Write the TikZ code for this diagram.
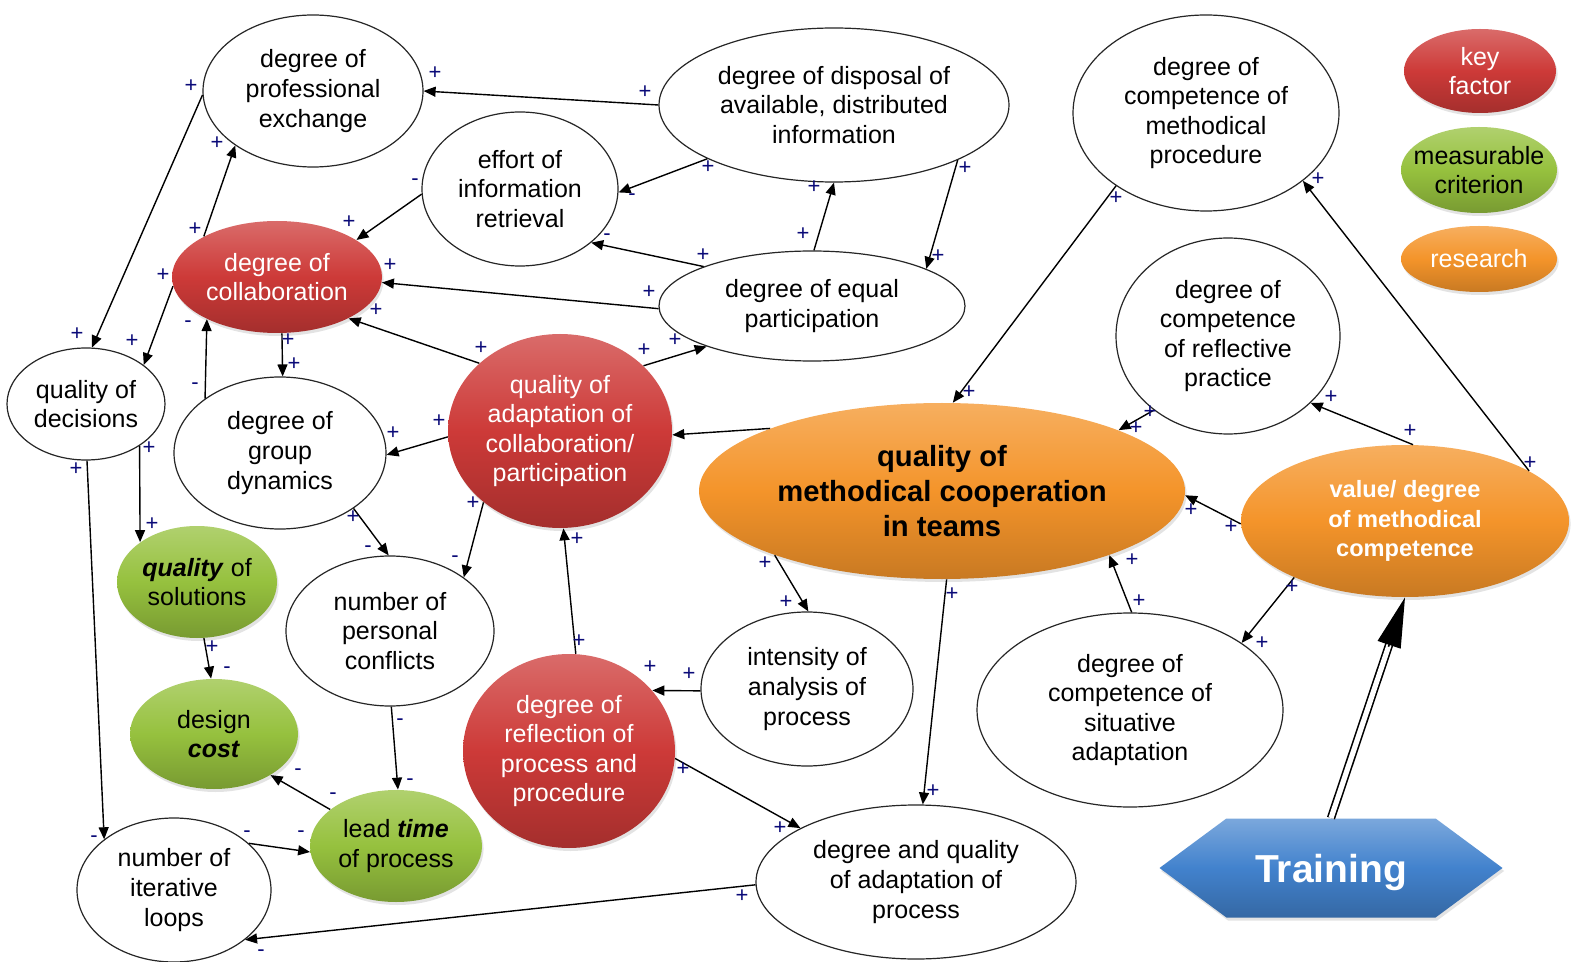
\documentclass[tikz,border=0pt]{standalone}
\usepackage{fontspec}
\setmainfont{Liberation Sans}
\usetikzlibrary{shapes.geometric,shapes.symbols,arrows.meta,calc,shadows}
\definecolor{kred}{RGB}{205,58,56}
\definecolor{kgreen}{RGB}{150,193,62}
\definecolor{korange}{RGB}{244,148,42}
\definecolor{kblue}{RGB}{66,130,205}
\definecolor{lblc}{RGB}{10,10,120}
\begin{document}
\begin{tikzpicture}[x=0.5pt,y=-0.5pt,
  el/.style 2 args={ellipse, inner sep=0pt, minimum width=#1pt, minimum height=#2pt, align=center},
  txt/.style={font=\fontsize{12.5}{14.8}\selectfont},
  wnode/.style={draw=black!85, line width=0.6pt, fill=white, txt},
  shad/.style={drop shadow={opacity=0.22,shadow xshift=0.8pt,shadow yshift=-1.5pt}},
  rnode/.style={shad, top color=kred!75!white, bottom color=kred!80!black, middle color=kred, text=white, txt},
  gnode/.style={shad, top color=kgreen!75!white, bottom color=kgreen!80!black, middle color=kgreen, text=black, txt},
  onode/.style={shad, top color=korange!75!white, bottom color=korange!82!black, middle color=korange},
  edge/.style={draw=black, line width=0.7pt, -{Triangle[length=6pt,width=5pt]}},
  lbl/.style={font=\fontsize{11}{11}\selectfont, text=lblc, inner sep=0pt}
]
\fill[white] (0,0) rectangle (1574,962);
\useasboundingbox (0,0) rectangle (1574,962);

% white nodes
\node[wnode, el={110}{76}] (PE) at (313,91) {degree of\\professional\\exchange};
\node[wnode, el={175}{77}] (DI) at (834,105) {degree of disposal of\\available, distributed\\information};
\node[wnode, el={98}{77}] (EF) at (520,189) {effort of\\information\\retrieval};
\node[wnode, el={153}{55}] (EP) at (812,306) {degree of equal\\participation};
\node[wnode, el={133}{98}] (CM) at (1206,113) {degree of\\competence of\\methodical\\procedure};
\node[wnode, el={79}{56}] (QD) at (86,404) {quality of\\decisions};
\node[wnode, el={106}{76}] (GD) at (280,453) {degree of\\group\\dynamics};
\node[wnode, el={112}{98}] (RP) at (1228,336) {degree of\\competence\\of reflective\\practice};
\node[wnode, el={104}{75}] (PC) at (390,631) {number of\\personal\\conflicts};
\node[wnode, el={106}{77}] (IN) at (807,689) {intensity of\\analysis of\\process};
\node[wnode, el={153}{97}] (SA) at (1130,710) {degree of\\competence of\\situative\\adaptation};
\node[wnode, el={97}{72}] (IL) at (174,890) {number of\\iterative\\loops};
\node[wnode, el={160}{77}] (DQ) at (916,882) {degree and quality\\of adaptation of\\process};

% red nodes
\node[rnode, el={105}{56}] (CO) at (277,277) {degree of\\collaboration};
\node[rnode, el={112}{97}] (QA) at (560,431) {quality of\\adaptation of\\collaboration/\\participation};
\node[rnode, el={106}{97}] (RF) at (569,751) {degree of\\reflection of\\process and\\procedure};

% green nodes
\node[gnode, el={80}{56}] (QS) at (197,582) {\textbf{\textit{quality}} of\\solutions};
\node[gnode, el={84}{55}] (DC) at (214,734) {design\\\textbf{\textit{cost}}};
\node[gnode, el={86}{56}] (LT) at (396,846) {lead \textbf{\textit{time}}\\of process};

% orange nodes
\node[onode, el={243}{88}, text=black, font=\bfseries\fontsize{14.6}{17.3}\selectfont] (QM) at (942,491) {quality of\\methodical cooperation\\in teams};
\node[onode, el={164}{76}, text=white, font=\bfseries\fontsize{11.8}{14.7}\selectfont] (VD) at (1405,521) {value/ degree\\of methodical\\competence};

% legend
\node[rnode, el={76}{42}] (K1) at (1480,71) {key\\factor};
\node[gnode, el={78}{43}, inner xsep=-16pt] (K2) at (1479,170) {measurable\\criterion};
\node[onode, el={78}{33}, text=white, txt] (K3) at (1479,259) {research};

% training
\node[shad, shape=signal, signal to=east and west, signal pointer angle=73, inner sep=0pt,
      minimum width=171.5pt, minimum height=49.5pt, text depth=0pt,
      top color=kblue!70!white, bottom color=kblue!80!black, middle color=kblue,
      text=white, font=\bfseries\fontsize{19.5}{22}\selectfont] (TR) at (1331,868) {Training};

% edges
\draw[edge] (DI.180) -- (PE.0);
\draw[edge] (DI.203) -- (EF.-2);
\draw[edge] (EP.88) -- (DI.270);
\draw[edge] (DI.336) -- (EP.18);
\draw[edge] (EP.160) -- (EF.323);
\draw[edge] (EF.183) -- (CO.25);
\draw[edge] (EP.181) -- (CO.-3);
\draw[edge] (CO.151) -- (PE.215);
\draw[edge] (PE.182) -- (QD.84);
\draw[edge] (CO.185) -- (QD.34);
\draw[edge] (GD.144) -- (CO.211);
\draw[edge] (CO.275) -- (GD.88);
\draw[edge] (QA.140) -- (CO.330);
\draw[edge] (QA.38) -- (EP.201);
\draw[edge] (QA.183) -- (GD.-1);
\draw[edge] (QM.160) -- (QA.-2);
\draw[edge] (CM.219) -- (QM.83);
\draw[edge] (VD.22) -- (CM.325);
\draw[edge] (RP.225) -- (QM.19);
\draw[edge] (VD.84) -- (RP.321);
\draw[edge] (VD.181) -- (QM.-1);
\draw[edge] (SA.89) -- (QM.339);
\draw[edge] (VD.207) -- (SA.31);
\draw[edge] (QM.201) -- (IN.89);
\draw[edge] (QM.273) -- (DQ.85);
\draw[edge] (IN.181) -- (RF.36);
\draw[edge] (RF.86) -- (QA.272);
\draw[edge] (RF.356) -- (DQ.155);
\draw[edge] (DQ.181) -- (IL.325);
\draw[edge] (QA.223) -- (PC.36);
\draw[edge] (GD.323) -- (PC.91);
\draw[edge] (PC.271) -- (LT.88);
\draw[edge] (LT.151) -- (DC.324);
\draw[edge] (IL.32) -- (LT.184);
\draw[edge] (QD.271) -- (IL.144);
\draw[edge] (QD.322) -- (QS.145);
\draw[edge] (QS.277) -- (DC.93);

% training arrow
\draw[double=white, double distance=2.6pt, line width=0.8pt, shorten >=22pt] (TR.north) -- (VD.270);
\draw[line width=0.8pt, -{Triangle[length=25pt,width=12pt]}] ($(VD.270)!26pt!(TR.north)$) coordinate (tb) -- (VD.270);

% polarity labels
\foreach \px/\py/\s [count=\i] in {
645/92/+, 435/73/+, 708/167/+, 632/197/-, 803/234/+, 814/187/+,
965/168/+, 938/256/+, 703/255/+, 607/237/-, 415/182/-, 349/222/+,
649/292/+, 390/265/+, 195/229/+, 217/143/+, 191/86/+, 77/334/+,
163/275/+, 132/341/+, 195/386/-, 188/324/-, 288/340/+, 294/364/+,
481/348/+, 376/310/+, 644/350/+, 675/340/+, 439/421/+, 393/433/+,
1116/198/+, 969/392/+, 1530/463/+, 1318/179/+, 1150/412/+, 1136/428/+,
1410/431/+, 1331/397/+, 1231/527/+, 1191/510/+, 1139/601/+, 1132/560/+,
1292/587/+, 1262/643/+, 765/563/+, 786/602/+, 952/594/+, 933/791/+,
689/674/+, 650/667/+, 579/641/+, 577/539/+, 683/769/+, 780/828/+,
742/896/+, 261/953/-, 473/503/+, 455/559/-, 353/517/+, 368/549/-,
400/722/-, 410/782/-, 333/796/-, 298/772/-, 247/834/-, 301/834/-,
76/469/+, 94/839/-, 149/448/+, 152/524/+, 212/647/+, 227/670/-}
  \node[lbl] (lab\i) at (\px,\py) {\s};
\end{tikzpicture}
\end{document}
